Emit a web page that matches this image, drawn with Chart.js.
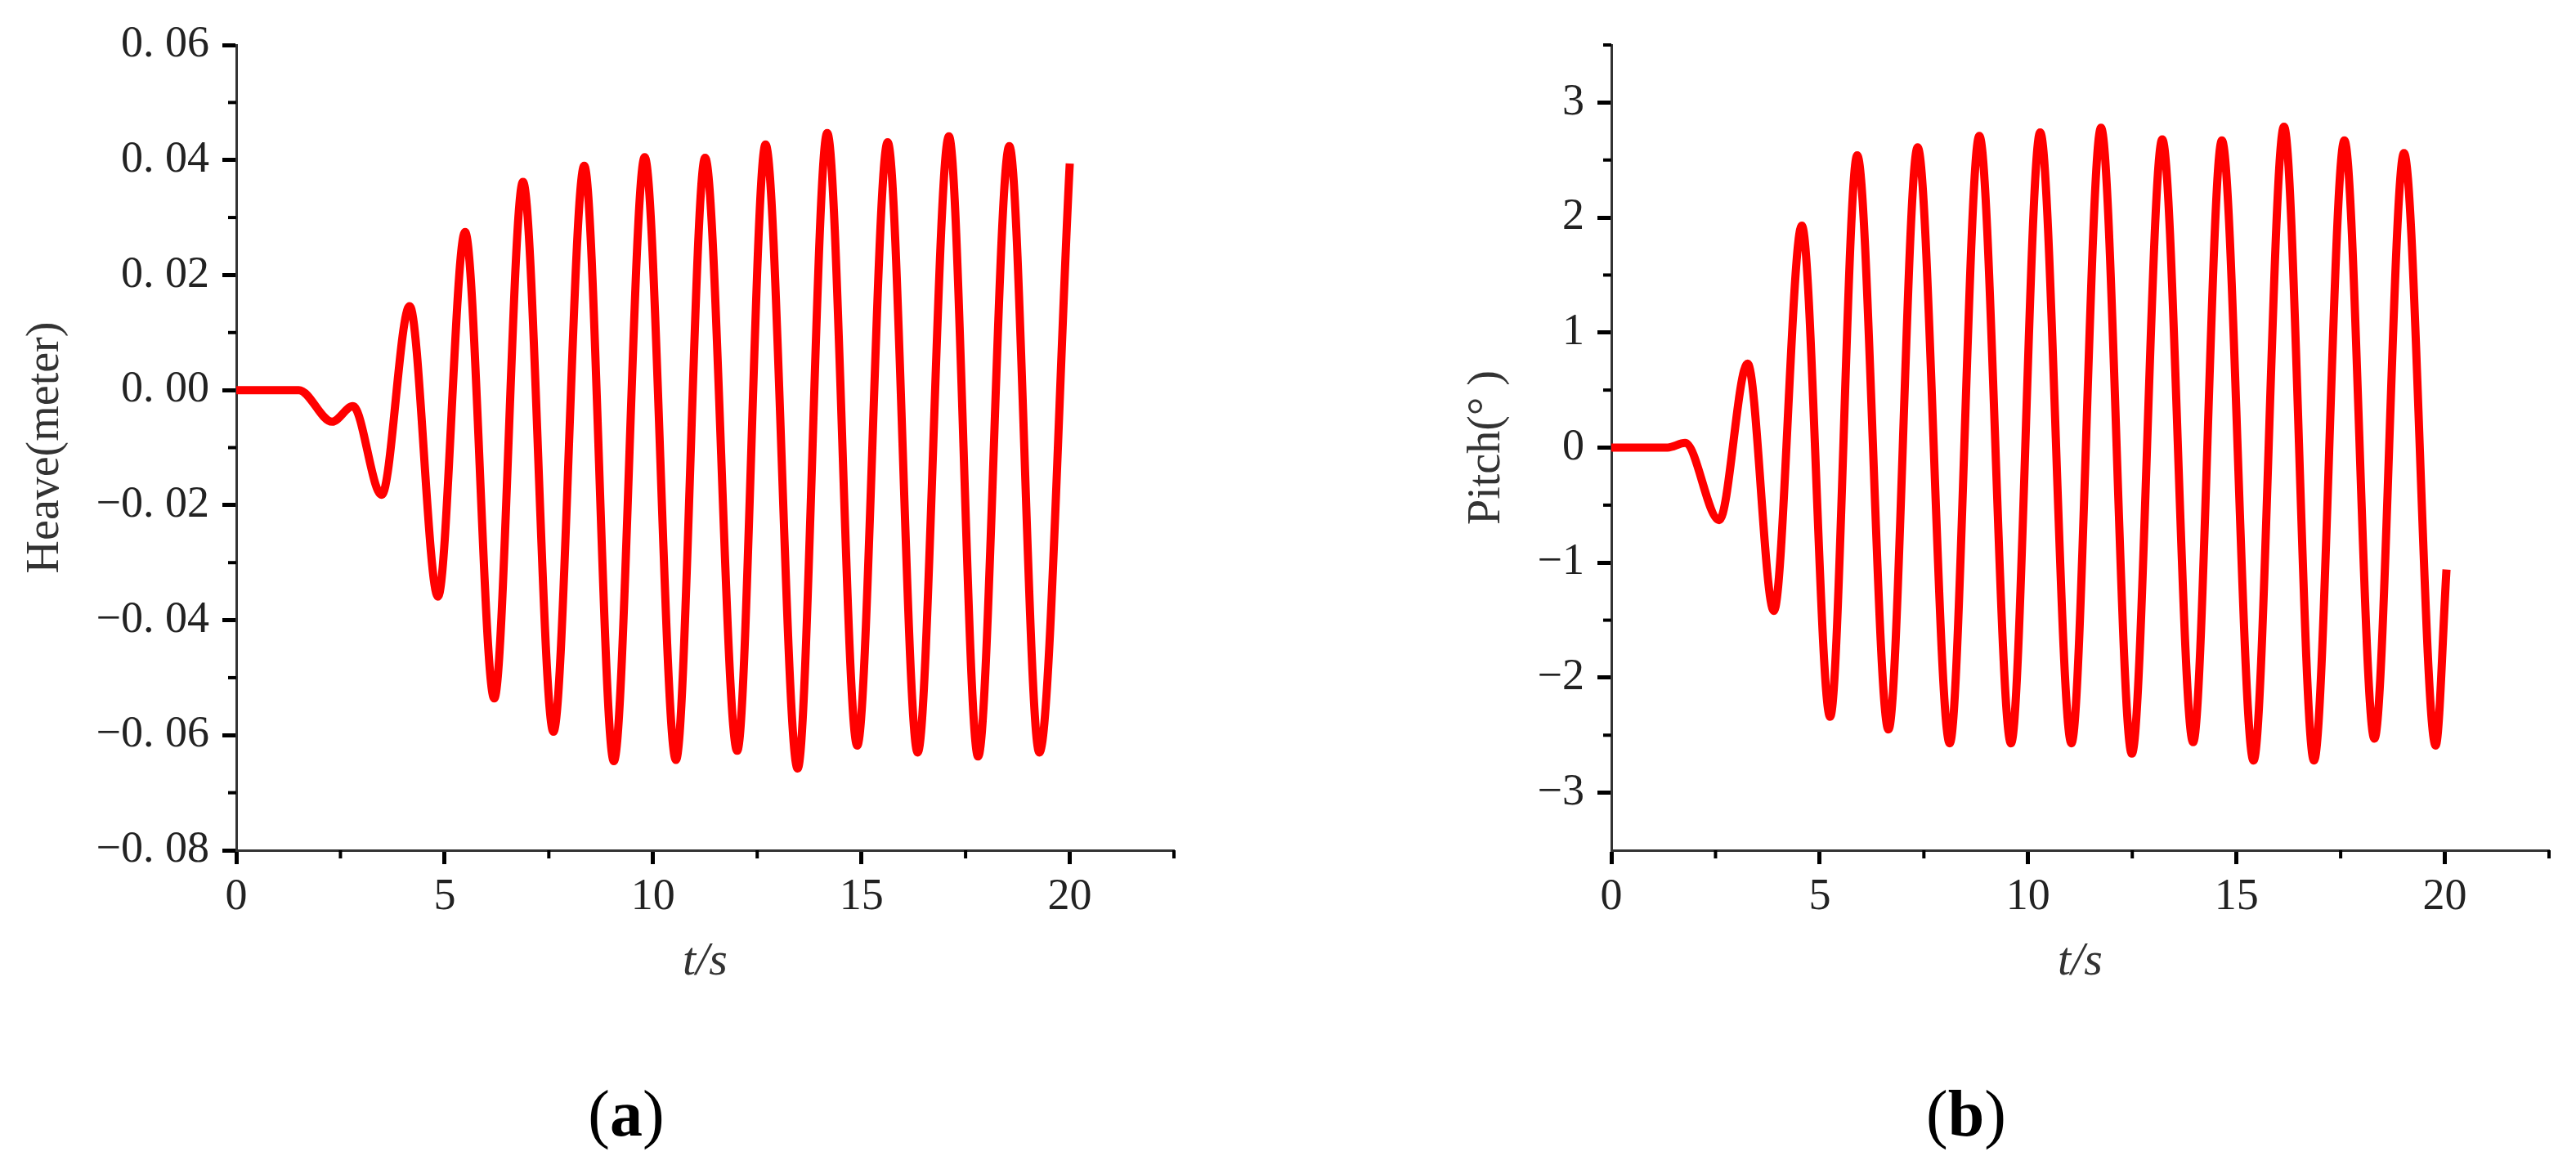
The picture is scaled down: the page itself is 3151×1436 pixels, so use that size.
<!DOCTYPE html>
<html>
<head>
<meta charset="utf-8">
<title>Heave and Pitch</title>
<script src="https://cdn.jsdelivr.net/npm/chart.js@4.4.1/dist/chart.umd.min.js"></script>
<style>
    html, body { margin: 0; padding: 0; background: #fff; }
    body { width: 3151px; height: 1436px; position: relative; overflow: hidden; }
    canvas { position: absolute; top: 0; }
    #heaveChart { left: 0; }
    #pitchChart { left: 1760px; }
    .caption {
        position: absolute;
        top: 1362px;
        transform: translate(-50%, -50%);
        font: 80px 'Liberation Serif', serif;
        color: #000;
        white-space: nowrap;
    }
</style>
</head>
<body>
<canvas id="heaveChart" width="1500" height="1240"></canvas>
<canvas id="pitchChart" width="1391" height="1240"></canvas>
<div class="caption" style="left:766px">(<b>a</b>)</div>
<div class="caption" style="left:2405px">(<b>b</b>)</div>

<script>
// --- Data (peaks / troughs of each curve) ---
const heaveTime  = [0, 1.5, 2.3, 2.8, 3.49, 4.16, 4.84, 5.49, 6.19, 6.88, 7.61, 8.35, 9.06, 9.8, 10.55,
                    11.25, 12.02, 12.7, 13.47, 14.18, 14.9, 15.63, 16.35, 17.1, 17.8, 18.55, 19.27, 20.0];
const heaveValue = [0, 0, -0.0055, -0.0028, -0.0182, 0.0146, -0.0359, 0.0275, -0.0536, 0.0362, -0.0594, 0.039, -0.0645, 0.0405, -0.0643,
                    0.0404, -0.0627, 0.0427, -0.0658, 0.0447, -0.0618, 0.0431, -0.063, 0.0441, -0.0637, 0.0424, -0.063, 0.0394];

const pitchTime  = [0, 1.35, 1.77, 2.59, 3.27, 3.9, 4.57, 5.25, 5.9, 6.65, 7.35, 8.12, 8.83, 9.59, 10.29,
                    11.04, 11.75, 12.49, 13.22, 13.96, 14.65, 15.41, 16.14, 16.86, 17.59, 18.31, 19.02, 19.78, 20.04];
const pitchValue = [0, 0, 0.04, -0.63, 0.73, -1.42, 1.93, -2.34, 2.54, -2.45, 2.61, -2.57, 2.71, -2.57, 2.74,
                    -2.57, 2.78, -2.66, 2.68, -2.56, 2.67, -2.72, 2.79, -2.72, 2.67, -2.53, 2.56, -2.59, -1.06];

// axis ranges, labelled ticks and minor ticks
const timeRange   = [0, 22.5];
const timeTicks   = [0, 5, 10, 15, 20];
const timeMinor   = [2.5, 7.5, 12.5, 17.5, 22.5];
const heaveRange  = [-0.08, 0.06];
const heaveTicks  = [-0.08, -0.06, -0.04, -0.02, 0, 0.02, 0.04, 0.06];
const heaveMinor  = [0.05, 0.03, 0.01, -0.01, -0.03, -0.05, -0.07];
const pitchRange  = [-3.5, 3.5];
const pitchTicks  = [-3, -2, -1, 0, 1, 2, 3];
const pitchMinor  = [3.5, 2.5, 1.5, 0.5, -0.5, -1.5, -2.5];

const MINUS = '\u2212';

// --- HELPER: minor ticks drawn from the chart's own scales ---
const minorTicks = {
    id: 'minorTicks',
    afterDraw(chart, args, opts) {
        const ctx = chart.ctx;
        const xs = chart.scales.x;
        const ys = chart.scales.y;
        ctx.save();
        ctx.strokeStyle = '#000';
        ctx.lineWidth = 4;
        opts.x.forEach(v => {
            const px = xs.getPixelForValue(v);
            ctx.beginPath();
            ctx.moveTo(px, xs.top);
            ctx.lineTo(px, xs.top + 10);
            ctx.stroke();
        });
        opts.y.forEach(v => {
            const py = ys.getPixelForValue(v);
            ctx.beginPath();
            ctx.moveTo(ys.right, py);
            ctx.lineTo(ys.right - 10, py);
            ctx.stroke();
        });
        ctx.restore();
    }
};

function axisBase() {
    return {
        type: 'linear',
        border: { display: true, color: '#333', width: 3 },
        grid: { drawOnChartArea: false, drawTicks: true, tickLength: 17, tickWidth: 5, tickColor: '#000' }
    };
}

function makeChart(id, opts) {
    const points = opts.time.map((t, i) => ({ x: t, y: opts.values[i] }));
    const xAxis = axisBase();
    const yAxis = axisBase();

    Object.assign(xAxis, {
        min: timeRange[0], max: timeRange[1],
        afterBuildTicks: s => { s.ticks = timeTicks.map(v => ({ value: v })); },
        ticks: {
            autoSkip: false, maxRotation: 0, padding: 8,
            color: '#222', font: { family: 'Liberation Serif', size: 54 },
            callback: v => String(v)
        },
        title: {
            display: true, text: 't/s', color: '#333',
            font: { family: 'Liberation Serif', size: 58, style: 'italic' },
            padding: { top: 0, bottom: 28 }
        },
        afterFit: s => { s.height = 200; }
    });

    Object.assign(yAxis, {
        min: opts.range[0], max: opts.range[1],
        afterBuildTicks: s => { s.ticks = opts.ticks.map(v => ({ value: v })); },
        ticks: {
            autoSkip: false, padding: 16,
            color: '#222', font: { family: 'Liberation Serif', size: 54 },
            callback: opts.format
        },
        title: {
            display: true, text: opts.label, color: '#333',
            font: { family: 'Liberation Serif', size: 56 },
            padding: { top: opts.titlePad, bottom: 0 }
        },
        afterFit: s => { s.width = opts.axisWidth; }
    });

    return new Chart(document.getElementById(id), {
        type: 'line',
        data: {
            datasets: [{
                data: points,
                borderColor: '#ff0000',
                borderWidth: 10,
                pointRadius: 0,
                fill: false,
                cubicInterpolationMode: 'monotone'
            }]
        },
        options: {
            responsive: false,
            animation: false,
            layout: { padding: { top: 55, right: opts.padRight, left: 0, bottom: 0 } },
            scales: { x: xAxis, y: yAxis },
            plugins: {
                legend: { display: false },
                tooltip: { enabled: false },
                minorTicks: { x: timeMinor, y: opts.minor }
            }
        },
        plugins: [minorTicks]
    });
}

// --- Heave (a) ---
makeChart('heaveChart', {
    time: heaveTime, values: heaveValue,
    range: heaveRange, ticks: heaveTicks, minor: heaveMinor,
    label: 'Heave(meter)', titlePad: 23,
    axisWidth: 289, padRight: 64,
    format: v => {
        const s = Math.abs(v).toFixed(2).replace('.', '. ');
        return (v < -1e-9 ? MINUS : '') + s;
    }
});

// --- Pitch (b) ---
makeChart('pitchChart', {
    time: pitchTime, values: pitchValue,
    range: pitchRange, ticks: pitchTicks, minor: pitchMinor,
    label: 'Pitch(° )', titlePad: 26,
    axisWidth: 211, padRight: 33,
    format: v => (v < 0 ? MINUS : '') + Math.abs(Math.round(v))
});
</script>
</body>
</html>
